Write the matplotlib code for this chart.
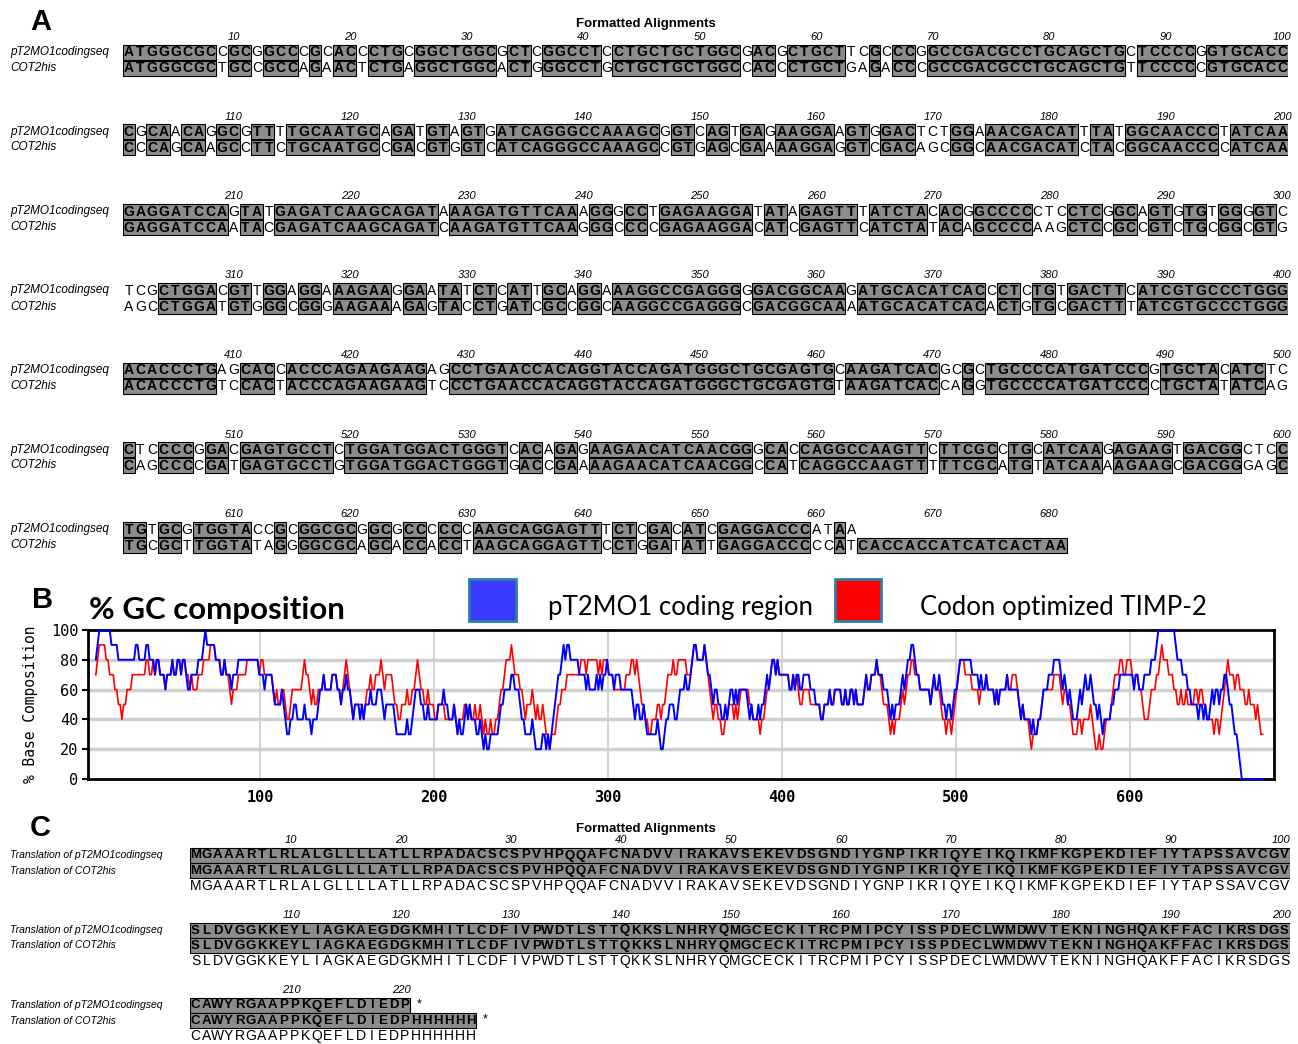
import numpy as np
import matplotlib.pyplot as plt
from matplotlib.patches import Rectangle

W, H = 1298, 1044

# aligned coding sequences, codon by codon (20 codons per line)
pt2_codons = """
ATG GGC GCC GCG GCC CGC ACC CTG CGG CTG GCG CTC GGC CTC CTG CTG CTG GCG ACG CTG
CTT CGC CCG GCC GAC GCC TGC AGC TGC TCC CCG GTG CAC CCG CAA CAG GCG TTT TGC AAT
GCA GAT GTA GTG ATC AGG GCC AAA GCG GTC AGT GAG AAG GAA GTG GAC TCT GGA AAC GAC
ATT TAT GGC AAC CCT ATC AAG AGG ATC CAG TAT GAG ATC AAG CAG ATA AAG ATG TTC AAA
GGG CCT GAG AAG GAT ATA GAG TTT ATC TAC ACG GCC CCC TCC TCG GCA GTG TGT GGG GTC
TCG CTG GAC GTT GGA GGA AAG AAG GAA TAT CTC ATT GCA GGA AAG GCC GAG GGG GAC GGC
AAG ATG CAC ATC ACC CTC TGT GAC TTC ATC GTG CCC TGG GAC ACC CTG AGC ACC ACC CAG
AAG AAG AGC CTG AAC CAC AGG TAC CAG ATG GGC TGC GAG TGC AAG ATC ACG CGC TGC CCC
ATG ATC CCG TGC TAC ATC TCC TCC CCG GAC GAG TGC CTC TGG ATG GAC TGG GTC ACA GAG
AAG AAC ATC AAC GGG CAC CAG GCC AAG TTC TTC GCC TGC ATC AAG AGA AGT GAC GGC TCC
TGT GCG TGG TAC CGC GGC GCG GCG CCC CCC AAG CAG GAG TTT CTC GAC ATC GAG GAC CCA
TAA
"""

cot_codons = """
ATG GGC GCT GCC GCC AGA ACT CTG AGG CTG GCA CTG GGC CTG CTG CTG CTG GCC ACC CTG
CTG AGA CCC GCC GAC GCC TGC AGC TGT TCC CCC GTG CAC CCC CAG CAA GCC TTC TGC AAT
GCC GAC GTG GTC ATC AGG GCC AAA GCC GTG AGC GAA AAG GAG GTC GAC AGC GGC AAC GAC
ATC TAC GGC AAC CCC ATC AAG AGG ATC CAA TAC GAG ATC AAG CAG ATC AAG ATG TTC AAG
GGC CCC GAG AAG GAC ATC GAG TTC ATC TAT ACA GCC CCA AGC TCC GCC GTC TGC GGC GTG
AGC CTG GAT GTG GGC GGG AAG AAA GAG TAC CTG ATC GCC GGC AAG GCC GAG GGC GAC GGC
AAA ATG CAC ATC ACA CTG TGC GAC TTT ATC GTG CCC TGG GAC ACC CTG TCC ACT ACC CAG
AAG AAG TCC CTG AAC CAC AGG TAC CAG ATG GGC TGC GAG TGT AAG ATC ACC AGG TGC CCC
ATG ATC CCC TGC TAT ATC AGC AGC CCC GAT GAG TGC CTG TGG ATG GAC TGG GTG ACC GAA
AAG AAC ATC AAC GGC CAT CAG GCC AAG TTT TTC GCA TGT ATC AAA AGA AGC GAC GGG AGC
TGC GCT TGG TAT AGG GGC GCA GCA CCA CCT AAG CAG GAG TTC CTG GAT ATT GAG GAC CCC
CAT CAC CAC CAT CAT CAC TAA
"""

pt2_prot = ("MGAAARTLRLALGLLLLATLLRPADACSCSPVHPQQAFCNADVVIRAKAVSEKEVDSGNDIYGNPIKRIQYEIKQIKMFKGPEKDIEFIYTAPSSAVCGV"
            "SLDVGGKKEYLIAGKAEGDGKMHITLCDFIVPWDTLSTTQKKSLNHRYQMGCECKITRCPMIPCYISSPDECLWMDWVTEKNINGHQAKFFACIKRSDGS"
            "CAWYRGAAPPKQEFLDIEDP")
cot_prot = pt2_prot + "HHHHHH"
consensus = cot_prot

names_A = ["pT2MO1codingseq", "COT2his"]
names_C = ["Translation of pT2MO1codingseq", "Translation of COT2his"]
legend_labels = ["pT2MO1 coding region", "Codon optimized TIMP-2"]

cot_seq = "".join(cot_codons.split())
pt2_seq = "".join(pt2_codons.split()).ljust(len(cot_seq), "-")


def gc_window(seq, win=10):
    flags = np.array([c in "GC" for c in seq], float)
    vals = np.convolve(flags, np.ones(win), "valid") / win * 100
    pos = np.arange(len(vals)) + 1 + (win - 1) / 2
    return pos, vals


def runs(mask):
    out, start = [], None
    for i, m in enumerate(mask):
        if m and start is None:
            start = i
        if not m and start is not None:
            out.append((start, i))
            start = None
    if start is not None:
        out.append((start, len(mask)))
    return out


fig = plt.figure(figsize=(W / 100, H / 100), dpi=100)
plt.rcParams['font.family'] = 'Liberation Sans'


def px_axes(x0, y0, x1, y1):
    return fig.add_axes([x0 / W, 1 - y1 / H, (x1 - x0) / W, (y1 - y0) / H])


def ftext(x, y, s, **kw):
    fig.text(x / W, 1 - y / H, s, **kw)


gray = "#8c8c8c"

# ---------------- panel A : DNA alignment
axA = px_axes(123, 0, 1288, 560)
axA.set_xlim(0.5, 100.5)
axA.set_ylim(560, 0)
axA.axis("off")
ftext(30, 22, "A", fontsize=21, weight="bold", va="center")
ftext(646, 24, "Formatted Alignments", fontsize=9.5, weight="bold", ha="center", va="center")

match = [a == b and a != "-" for a, b in zip(pt2_seq, cot_seq)]
tail = [a == "-" for a in pt2_seq]
rowsA = [(pt2_seq, match), (cot_seq, [m or t for m, t in zip(match, tail)])]

for b in range(7):
    ty = 37 + 79.5 * b
    lo = b * 100
    for k in range(10, 101, 10):
        if lo + k <= 680:
            axA.text(k, ty, str(lo + k), ha="center", va="center", style="italic", fontsize=8)
    for r, (seq, mask) in enumerate(rowsA):
        y = ty + 15 + 16 * r
        ftext(10, y, names_A[r], fontsize=8.5, style="italic", va="center")
        seg = seq[lo:lo + 100]
        msk = mask[lo:lo + 100]
        for s0, s1 in runs(msk):
            axA.add_patch(Rectangle((s0 + 0.5, y - 7.5), s1 - s0, 15, fc=gray, ec="black", lw=0.8))
        for c, ch in enumerate(seg):
            if ch == "-":
                continue
            axA.text(c + 1, y + 0.5, ch, ha="center", va="center", fontsize=10,
                     weight="bold" if msk[c] else "normal")

# ---------------- panel B : GC composition
ftext(32, 600, "B", fontsize=21, weight="bold", va="center")
ftext(89, 610, "% GC composition", fontsize=22.5, weight="bold", family="Lato", va="center")
fig.add_artist(Rectangle((469 / W, 1 - 621 / H), 47 / W, 42 / H, transform=fig.transFigure,
                         fc="#3a3aff", ec="#2a7fa8", lw=2))
fig.add_artist(Rectangle((835 / W, 1 - 621 / H), 46 / W, 42 / H, transform=fig.transFigure,
                         fc="#ff0000", ec="#2a7fa8", lw=2))
ftext(548, 607, legend_labels[0], fontsize=18.5, family="Lato", va="center")
ftext(920, 607, legend_labels[1], fontsize=18.5, family="Lato", va="center")

axB = px_axes(88, 630, 1274, 779)
xr, gr = gc_window(cot_seq)
xb, gb = gc_window(pt2_seq)
axB.plot(xr, gr, color="#ff0000", lw=1.2, clip_on=False, zorder=3)
axB.plot(xb, gb, color="#0000ff", lw=1.4, clip_on=False, zorder=3.1)
axB.set_xlim(1, 683)
axB.set_ylim(0, 100)
axB.set_yticks(range(0, 101, 20))
axB.set_xticks(range(100, 601, 100))
for v in range(20, 100, 20):
    axB.axhline(v, color="#d0d0d0", lw=2.5, zorder=0)
for v in range(100, 601, 100):
    axB.axvline(v, color="#cccccc", lw=1.2, zorder=0)
for sp in axB.spines.values():
    sp.set_linewidth(2)
    sp.set_zorder(2)
axB.tick_params(axis="y", length=4, width=1.5, pad=3, labelsize=11)
axB.tick_params(axis="x", length=0, pad=8, labelsize=11)
for t in axB.get_yticklabels():
    t.set_family("DejaVu Sans Mono")
for t in axB.get_xticklabels():
    t.set_family("DejaVu Sans Mono")
    t.set_weight("bold")
axB.set_ylabel("% Base Composition", family="DejaVu Sans Mono", fontsize=10.5, labelpad=9)

# ---------------- panel C : protein alignment
axC = px_axes(190, 820, 1290, 1044)
axC.set_xlim(0.5, 100.5)
axC.set_ylim(1044, 820)
axC.axis("off")
ftext(30, 828, "C", fontsize=21, weight="bold", va="center")
ftext(646, 829, "Formatted Alignments", fontsize=9.5, weight="bold", ha="center", va="center")

rowsC = [pt2_prot, cot_prot]
for b in range(3):
    ty = 840 + 75 * b
    lo = b * 100
    for k in range(10, 101, 10):
        if lo + k <= len(consensus) - 6 or (b < 2):
            axC.text(k - 0.3, ty, str(lo + k), ha="center", va="center", style="italic", fontsize=8)
    for r, seq in enumerate(rowsC):
        y = ty + 15 + 15.5 * r
        ftext(10, y, names_C[r], fontsize=7.5, style="italic", va="center")
        seg = seq[lo:lo + 100]
        axC.add_patch(Rectangle((0.5, y - 7.5), len(seg), 15, fc=gray, ec="black", lw=0.8))
        for c, ch in enumerate(seg):
            axC.text(c + 1, y + 0.5, ch, ha="center", va="center", fontsize=9.5, weight="bold")
        if len(seg) < 100:
            axC.text(len(seg) + 1.3, y - 1, "*", ha="center", va="center", fontsize=9)
    y = ty + 46
    for c, ch in enumerate(consensus[lo:lo + 100]):
        axC.text(c + 1, y, ch, ha="center", va="center", fontsize=10)

fig.savefig("out.png", dpi=100)
